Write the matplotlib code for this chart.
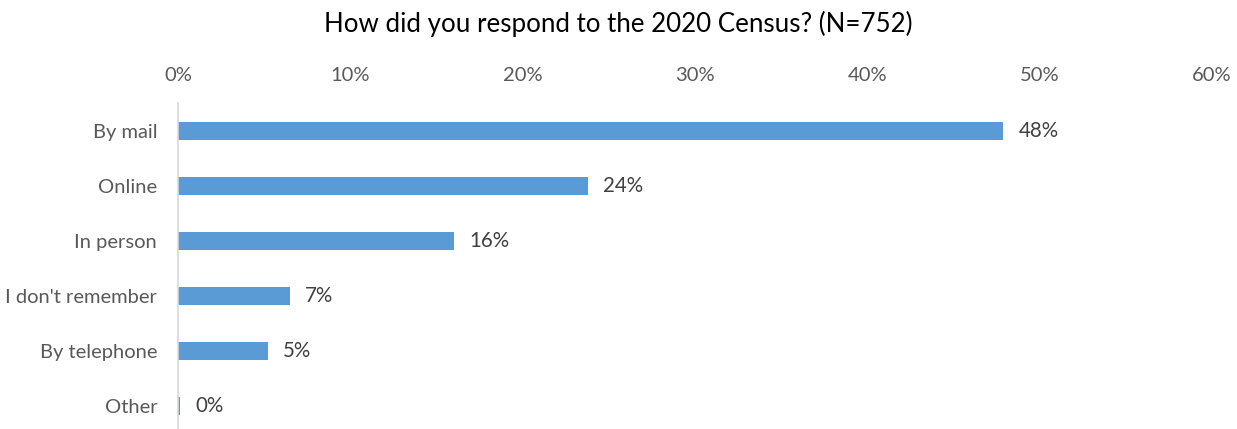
import matplotlib.pyplot as plt

# Respuestas al censo 2020 (porcentaje)
categorias = ["By mail", "Online", "In person", "I don't remember", "By telephone", "Other"]
valores = [47.9, 23.8, 16.0, 6.5, 5.2, 0.1]
etiquetas = ["48%", "24%", "16%", "7%", "5%", "0%"]
ticks_x = [0, 10, 20, 30, 40, 50, 60]

COLOR_BARRA = "#5B9BD5"
COLOR_TEXTO = "#595959"

plt.rcParams["font.family"] = ["Lato", "DejaVu Sans"]

fig = plt.figure(figsize=(12.37, 4.29), dpi=100)
ax = fig.add_axes([0.1439, -0.0105, 0.8359, 0.7693])

y = list(range(len(categorias)))
ax.barh(y, valores, height=0.33, color=COLOR_BARRA)

for yi, v, txt in zip(y, valores, etiquetas):
    ax.annotate(txt, (v, yi), xytext=(11, 0), textcoords="offset points",
                va="center", ha="left", fontsize=14.8, color="#404040")

ax.set_yticks(y)
ax.set_yticklabels(categorias)
ax.set_ylim(len(categorias) - 0.5, -0.5)
ax.set_xlim(0, 60)
ax.set_xticks(ticks_x)
ax.set_xticklabels([f"{t}%" for t in ticks_x])
ax.xaxis.tick_top()

ax.tick_params(axis="both", length=0, labelsize=14.5, colors=COLOR_TEXTO)
ax.tick_params(axis="x", pad=14)
ax.tick_params(axis="y", pad=15)

for lado in ["top", "right", "bottom"]:
    ax.spines[lado].set_visible(False)
ax.spines["left"].set_color("#D9D9D9")
ax.spines["left"].set_linewidth(1.2)

fig.text(0.5, 0.945, "How did you respond to the 2020 Census? (N=752)",
         ha="center", va="center", fontsize=18.6, color="#000000")

fig.savefig("out.png", dpi=100)
